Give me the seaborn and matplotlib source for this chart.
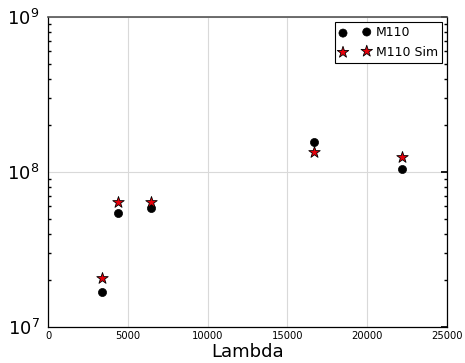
import matplotlib
matplotlib.use("Agg")
import matplotlib.pyplot as plt
import seaborn as sns
import pandas as pd
from matplotlib.ticker import LogLocator, FixedLocator, NullFormatter

wavelengths = [3400, 4400, 6450, 16650, 22200]
m110_obs = [1.68e7, 5.45e7, 5.85e7, 1.56e8, 1.045e8]
m110_sim = [2.07e7, 6.4e7, 6.4e7, 1.35e8, 1.25e8]
series_names = ["M110", "M110 Sim"]
x_ticks = [0, 5000, 10000, 15000, 20000, 25000]

sns.set_theme(style="white")
plt.rcParams['font.family'] = ['DejaVu Sans']
plt.rcParams.update({"text.color": "black", "axes.labelcolor": "black",
                     "xtick.color": "black", "ytick.color": "black"})

df = pd.DataFrame({
    "Lambda": wavelengths * 2,
    "value": m110_obs + m110_sim,
    "series": [series_names[0]] * len(wavelengths) + [series_names[1]] * len(wavelengths),
})

fig = plt.figure(figsize=(4.65, 3.63), dpi=100)
ax = fig.add_axes([48/465, 1-327/363, (447-48)/465, (327-17)/363])

sns.scatterplot(data=df[df.series == series_names[0]], x="Lambda", y="value", ax=ax,
                marker="o", s=34, color="black", edgecolor="black", linewidth=0.5,
                label=series_names[0], zorder=3)
sns.scatterplot(data=df[df.series == series_names[1]], x="Lambda", y="value", ax=ax,
                marker="*", s=75, color="#e8000b", edgecolor="black", linewidth=0.6,
                label=series_names[1], zorder=4)

ax.set_yscale("log")
ax.set_ylim(1e7, 1e9)
ax.set_xlim(0, 25000)
ax.set_xticks(x_ticks)
ax.set_xticklabels([str(t) for t in x_ticks])
ax.yaxis.set_major_locator(FixedLocator([1e7, 1e8, 1e9]))
ax.yaxis.set_minor_locator(LogLocator(base=10, subs=range(2, 10)))
ax.yaxis.set_minor_formatter(NullFormatter())

ax.grid(True, which="major", color="#d9d9d9", linewidth=0.8)
ax.set_axisbelow(True)
for sp in ax.spines.values():
    sp.set_color("black")
    sp.set_linewidth(0.9)
ax.spines["top"].set_color("#555555")
ax.spines["top"].set_linewidth(1.2)

ax.tick_params(axis="x", which="both", direction="in", labelsize=7.2, length=0,
               top=False, pad=3, color="black", labelcolor="black")
ax.tick_params(axis="y", which="major", direction="in", labelsize=13, length=4,
               right=True, pad=6, color="black", labelcolor="black")
ax.tick_params(axis="y", which="minor", direction="in", length=2, right=True,
               left=True, color="black")

ax.set_xlabel("Lambda", fontsize=13, labelpad=1, color="black")
ax.set_ylabel("")

leg = ax.legend(loc="upper right", numpoints=2, scatterpoints=2, fontsize=9,
                frameon=True, fancybox=False, edgecolor="black", framealpha=1,
                borderpad=0.35, handletextpad=0.4, labelspacing=0.5,
                borderaxespad=0.4, handlelength=2.5)
leg.get_frame().set_linewidth(0.8)
for t in leg.get_texts():
    t.set_color("black")

fig.savefig("out.png", dpi=100)
